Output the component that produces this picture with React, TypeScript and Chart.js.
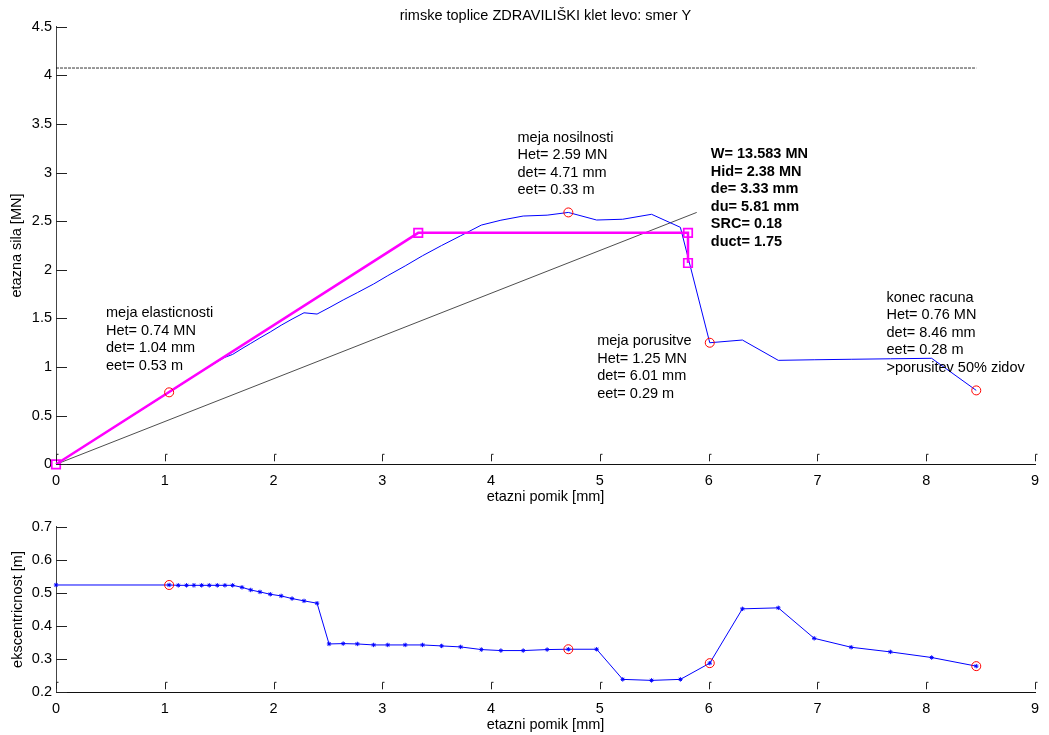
import React, { useEffect, useRef } from "react";
import { Chart, registerables } from "chart.js";

Chart.register(...registerables);

// ---------- data ----------
const dispX = [0, 1.04, 1.124, 1.2, 1.268, 1.339, 1.409, 1.483, 1.553, 1.624, 1.71, 1.79, 1.875, 1.97, 2.07, 2.17, 2.28, 2.4, 2.51, 2.64, 2.77, 2.92, 3.05, 3.21, 3.37, 3.545, 3.72, 3.91, 4.09, 4.295, 4.515, 4.71, 4.97, 5.21, 5.475, 5.74, 6.01, 6.31, 6.64, 6.97, 7.31, 7.67, 8.05, 8.46];
const storeyForce = [0, 0.74, 0.8, 0.855, 0.905, 0.955, 1.005, 1.055, 1.1, 1.13, 1.19, 1.243, 1.3, 1.361, 1.43, 1.493, 1.558, 1.545, 1.61, 1.69, 1.765, 1.854, 1.94, 2.04, 2.145, 2.25, 2.35, 2.46, 2.51, 2.553, 2.562, 2.59, 2.512, 2.52, 2.571, 2.437, 1.25, 1.278, 1.069, 1.075, 1.08, 1.085, 1.09, 0.76];
const eccentricity = [0.524, 0.524, 0.523, 0.523, 0.523, 0.523, 0.523, 0.523, 0.523, 0.523, 0.517, 0.509, 0.503, 0.496, 0.491, 0.483, 0.476, 0.469, 0.346, 0.347, 0.346, 0.343, 0.343, 0.343, 0.343, 0.34, 0.337, 0.329, 0.326, 0.326, 0.329, 0.33, 0.33, 0.239, 0.236, 0.239, 0.288, 0.452, 0.455, 0.363, 0.336, 0.322, 0.305, 0.279];

const bilinearX = [0, 3.33, 5.81, 5.81];
const bilinearY = [0, 2.38, 2.38, 2.07];

const keyX = [1.04, 4.71, 6.01, 8.46];
const keyForce = [0.74, 2.59, 1.25, 0.76];
const keyEcc = [0.524, 0.33, 0.288, 0.279];

const capacityX = [0, 8.46];
const capacityY = [4.075, 4.075];

const secantX = [0, 5.89];
const secantY = [0, 2.59];

const xTicks = [0, 1, 2, 3, 4, 5, 6, 7, 8, 9];
const yTicksTop = [0, 0.5, 1, 1.5, 2, 2.5, 3, 3.5, 4, 4.5];
const yTicksBottom = [0.2, 0.3, 0.4, 0.5, 0.6, 0.7];

const titleText = "rimske toplice ZDRAVILIŠKI klet levo: smer Y";
const xTitle = "etazni pomik [mm]";
const yTitleTop = "etazna sila [MN]";
const yTitleBottom = "ekscentricnost [m]";

const noteElastic = ["meja elasticnosti", "Het= 0.74 MN", "det= 1.04 mm", "eet= 0.53 m"];
const noteCapacity = ["meja nosilnosti", "Het= 2.59 MN", "det= 4.71 mm", "eet= 0.33 m"];
const noteSummary = ["W= 13.583 MN", "Hid= 2.38 MN", "de= 3.33 mm", "du= 5.81 mm", "SRC= 0.18", "duct= 1.75"];
const noteFailure = ["meja porusitve", "Het= 1.25 MN", "det= 6.01 mm", "eet= 0.29 m"];
const noteEnd = ["konec racuna", "Het= 0.76 MN", "det= 8.46 mm", "eet= 0.28 m", ">porusitev 50% zidov"];

// annotation anchors (data coordinates of first line's left/middle)
const notes = [
  { lines: noteElastic, x: 0.46, y: 1.556, bold: false },
  { lines: noteCapacity, x: 4.243, y: 3.36, bold: false },
  { lines: noteSummary, x: 6.02, y: 3.19, bold: true },
  { lines: noteFailure, x: 4.975, y: 1.268, bold: false },
  { lines: noteEnd, x: 7.635, y: 1.715, bold: false },
];

const FONT = '"Liberation Sans", Arial, Helvetica, sans-serif';
const FS = 14.5;
const pts = (xs: number[], ys: number[]) => xs.map((x, i) => ({ x, y: ys[i] }));

const matlabAxes = {
  id: "matlabAxes",
  afterDraw(chart: any, _args: any, opts: any) {
    const ctx = chart.ctx;
    const ca = chart.chartArea;
    const xs = chart.scales.x;
    const ys = chart.scales.y;
    ctx.save();
    ctx.strokeStyle = "#222";
    ctx.lineWidth = 1;
    (opts.yTicks || []).forEach((v: number) => {
      const py = Math.round(ys.getPixelForValue(v)) + 0.5;
      ctx.beginPath();
      ctx.moveTo(ca.left, py);
      ctx.lineTo(ca.left + 11, py);
      ctx.stroke();
    });
    (opts.xTicks || []).forEach((v: number) => {
      const px = Math.round(xs.getPixelForValue(v)) + 0.5;
      ctx.beginPath();
      ctx.moveTo(px, ca.bottom - 3);
      ctx.lineTo(px, ca.bottom - 10);
      ctx.lineTo(px + 2, ca.bottom - 10);
      ctx.stroke();
    });
    if (opts.title) {
      ctx.fillStyle = "#000";
      ctx.font = `${FS}px ${FONT}`;
      ctx.textAlign = "center";
      ctx.textBaseline = "middle";
      ctx.fillText(opts.title, (ca.left + ca.right) / 2, 16);
    }
    (opts.notes || []).forEach((n: any) => {
      ctx.fillStyle = "#000";
      ctx.font = `${n.bold ? "bold " : ""}${FS}px ${FONT}`;
      ctx.textAlign = "left";
      ctx.textBaseline = "middle";
      const px = xs.getPixelForValue(n.x);
      const py = ys.getPixelForValue(n.y);
      n.lines.forEach((t: string, i: number) => ctx.fillText(t, px, py + i * 17.6));
    });
    ctx.restore();
  },
};

function makeScales(yTicks: number[], yMin: number, yMax: number, xHeight: number, xTitlePad: number, yTitlePad: number, yTitle: string) {
  const tickFont = { family: FONT, size: FS };
  return {
    x: {
      type: "linear",
      min: 0,
      max: 9,
      afterFit: (s: any) => { s.height = xHeight; },
      afterBuildTicks: (s: any) => { s.ticks = xTicks.map((v) => ({ value: v })); },
      grid: { display: false },
      border: { display: true, color: "#111", width: 1 },
      ticks: { color: "#000", font: tickFont, padding: 0, maxRotation: 0, autoSkip: false, callback: (v: any) => String(v) },
      title: { display: true, text: xTitle, color: "#000", font: tickFont, padding: { top: 0, bottom: xTitlePad } },
    },
    y: {
      type: "linear",
      min: yMin,
      max: yMax,
      afterFit: (s: any) => { s.width = 56; },
      afterBuildTicks: (s: any) => { s.ticks = yTicks.map((v) => ({ value: v })); },
      grid: { display: false },
      border: { display: true, color: "#444", width: 1 },
      ticks: { color: "#000", font: tickFont, padding: -4, autoSkip: false, callback: (v: any) => String(Math.round(v * 10) / 10) },
      title: { display: true, text: yTitle, color: "#000", font: tickFont, padding: { top: yTitlePad, bottom: 0 } },
    },
  };
}

function TopChart() {
  const ref = useRef<HTMLCanvasElement>(null);
  useEffect(() => {
    const chart = new Chart(ref.current!, {
      type: "scatter",
      data: {
        datasets: [
          { data: pts(keyX, keyForce), showLine: false, clip: false, pointStyle: "circle", pointRadius: 4.5, borderColor: "#ff0000", backgroundColor: "rgba(0,0,0,0)", pointBorderWidth: 1 },
          { data: pts(bilinearX, bilinearY), showLine: true, clip: false, borderColor: "#ff00ff", borderWidth: 2.5, pointStyle: "rect", pointRadius: 6, pointBorderColor: "#ff00ff", pointBackgroundColor: "rgba(0,0,0,0)", pointBorderWidth: 1.7 },
          { data: pts(dispX, storeyForce), showLine: true, borderColor: "#0000ff", borderWidth: 1, pointRadius: 0 },
          { data: pts(secantX, secantY), showLine: true, borderColor: "#000", borderWidth: 0.7, pointRadius: 0 },
          { data: pts(capacityX, capacityY), showLine: true, borderColor: "#000", borderWidth: 0.8, borderDash: [3, 1], pointRadius: 0 },
        ],
      },
      options: {
        responsive: false,
        animation: false,
        events: [],
        layout: { padding: { top: 26.7, right: 14, left: 0, bottom: 0 } },
        plugins: {
          legend: { display: false },
          tooltip: { enabled: false },
          title: { display: false },
          matlabAxes: { yTicks: yTicksTop, xTicks, title: titleText, notes },
        } as any,
        scales: makeScales(yTicksTop, 0, 4.5, 45.7, 4.2, 8, yTitleTop) as any,
      },
      plugins: [matlabAxes],
    });
    return () => chart.destroy();
  }, []);
  return <canvas ref={ref} width={1049} height={510} style={{ position: "absolute", left: 0, top: 0, display: "block" }} />;
}

function BottomChart() {
  const ref = useRef<HTMLCanvasElement>(null);
  useEffect(() => {
    const chart = new Chart(ref.current!, {
      type: "scatter",
      data: {
        datasets: [
          { data: pts(keyX, keyEcc), showLine: false, clip: false, pointStyle: "circle", pointRadius: 4.5, borderColor: "#ff0000", backgroundColor: "rgba(0,0,0,0)", pointBorderWidth: 1 },
          { data: pts(dispX, eccentricity), showLine: true, clip: false, borderColor: "#0000ff", borderWidth: 1, pointStyle: "star", pointRadius: 2.2, pointBorderColor: "#0000ff", pointBorderWidth: 1 },
        ],
      },
      options: {
        responsive: false,
        animation: false,
        events: [],
        layout: { padding: { top: 26.7, right: 14, left: 0, bottom: 0 } },
        plugins: {
          legend: { display: false },
          tooltip: { enabled: false },
          title: { display: false },
          matlabAxes: { yTicks: yTicksBottom, xTicks },
        } as any,
        scales: makeScales(yTicksBottom, 0.2, 0.7, 42.7, 1.2, 9, yTitleBottom) as any,
      },
      plugins: [matlabAxes],
    });
    return () => chart.destroy();
  }, []);
  return <canvas ref={ref} width={1049} height={235} style={{ position: "absolute", left: 0, top: 500, display: "block" }} />;
}

export default function App() {
  return (
    <div style={{ position: "absolute", left: 0, top: 0, width: 1049, height: 735, background: "#fff" }}>
      <TopChart />
      <BottomChart />
    </div>
  );
}
